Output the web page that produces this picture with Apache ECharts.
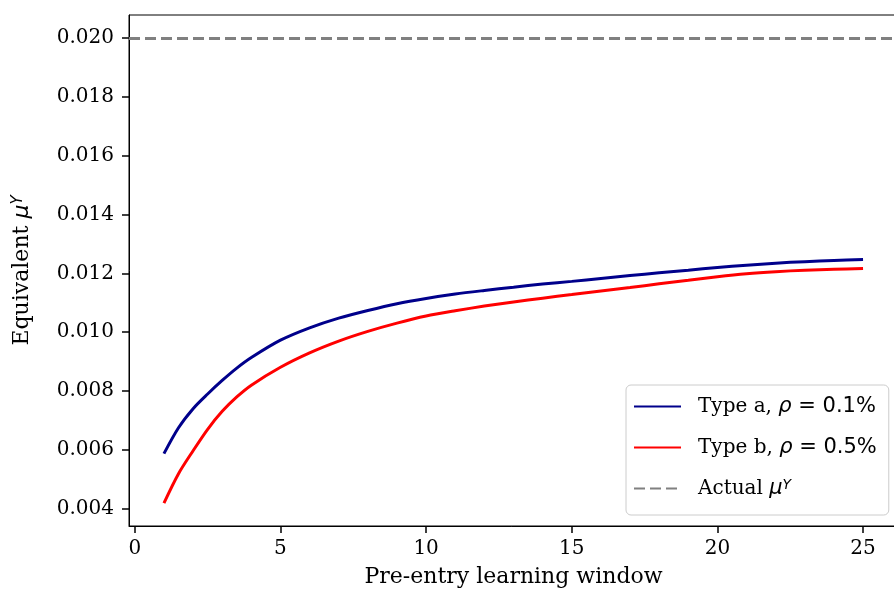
<!DOCTYPE html>
<html>
<head>
<meta charset="utf-8">
<script src="https://cdn.jsdelivr.net/npm/echarts@6/dist/echarts.min.js"></script>
<style>
html,body{margin:0;padding:0;background:#fff;}
#chart{width:894px;height:592px;}
</style>
</head>
<body>
<div id="chart"></div>
<script>
const xValues = [1,1.5,2,2.5,3,3.5,4,5,6,7,8,9,10,11,12,13,14,15,16,17,18,19,20,21,22,23,24,25];
const typeA = [0.00587,0.00675,0.00740,0.00790,0.00836,0.00878,0.00914,0.00973,0.01015,0.01048,0.01074,0.01097,0.01115,0.01130,0.01142,0.01153,0.01164,0.01173,0.01183,0.01193,0.01202,0.01211,0.01220,0.01228,0.01235,0.01240,0.01244,0.01247];
const typeB = [0.00419,0.00519,0.00597,0.00670,0.00731,0.00780,0.00820,0.00881,0.00930,0.00970,0.01003,0.01031,0.01055,0.01073,0.01089,0.01103,0.01116,0.01128,0.01140,0.01152,0.01165,0.01177,0.01189,0.01199,0.01206,0.01211,0.01214,0.01217];
const actualMu = 0.020;
const xTicks = [0,5,10,15,20,25];
const yTicks = [0.004,0.006,0.008,0.010,0.012,0.014,0.016,0.018,0.020];
const seriesNames = ['Type a', 'Type b', 'Actual'];

const serif = 'DejaVu Serif';
const sans = 'DejaVu Sans';
const chart = echarts.init(document.getElementById('chart'), null, {renderer:'canvas'});

const pairs = arr => xValues.map((x,i)=>[x, arr[i]]);

const option = {
  animation: false,
  backgroundColor: '#fff',
  grid: {left:129, top:15, width:769, height:511, show:true, borderColor:'#000', borderWidth:1, backgroundColor:'transparent', outerBoundsMode:'none'},
  xAxis: {
    type:'value', min:-0.2, max:26.2,
    name:'Pre-entry learning window', nameLocation:'middle', nameGap:40,
    nameTextStyle:{fontFamily:serif, fontSize:22, color:'#000'},
    axisLine:{show:true, onZero:false, lineStyle:{color:'#000', width:1}},
    axisTick:{show:true, length:7, lineStyle:{color:'#000', width:1.5}, customValues:xTicks},
    axisLabel:{fontFamily:serif, fontSize:20, color:'#000', margin:13, customValues:xTicks, formatter: v => String(v)},
    splitLine:{show:false}
  },
  yAxis: {
    type:'value', min:0.00341, max:0.02079,
    name:'{t|Equivalent }{m|μ}{s|Y}', nameLocation:'middle', nameRotate:90, nameGap:96,
    nameTextStyle:{fontFamily:serif, fontSize:22, color:'#000',
      rich:{t:{fontFamily:serif, fontSize:22, color:'#000'},
            m:{fontFamily:sans, fontStyle:'italic', fontSize:22, color:'#000'},
            s:{fontFamily:sans, fontStyle:'italic', fontSize:15, color:'#000', verticalAlign:'top', lineHeight:10}}},
    axisLine:{show:true, onZero:false, lineStyle:{color:'#000', width:1}},
    axisTick:{show:true, length:7, lineStyle:{color:'#000', width:1.5}, customValues:yTicks},
    axisLabel:{fontFamily:serif, fontSize:20, color:'#000', margin:15, customValues:yTicks, formatter: v => v.toFixed(3)},
    splitLine:{show:false}
  },
  legend: {
    left:626, top:385, orient:'vertical',
    padding:[11,12,16,7], itemGap:20, itemWidth:47, itemHeight:20,
    backgroundColor:'rgba(255,255,255,0.8)', borderColor:'#cccccc', borderWidth:1, borderRadius:5,
    itemStyle:{opacity:0},
    data: seriesNames,
    formatter: function(name){
      if (name==='Type a') return '{t|Type a, }{m|ρ}{n| = 0.1%}';
      if (name==='Type b') return '{t|Type b, }{m|ρ}{n| = 0.5%}';
      return '{t|Actual }{m|μ}{s|Y}';
    },
    textStyle:{fontFamily:serif, fontSize:20, color:'#000', padding:[0,0,0,12],
      rich:{t:{fontFamily:serif, fontSize:20, color:'#000'},
            m:{fontFamily:sans, fontStyle:'italic', fontSize:21, color:'#000'},
            n:{fontFamily:sans, fontSize:21, color:'#000'},
            s:{fontFamily:sans, fontStyle:'italic', fontSize:14, color:'#000', verticalAlign:'top', lineHeight:10}}}
  },
  series: [
    {name:'Type a', type:'line', data:pairs(typeA), smooth:0.3, showSymbol:false, symbol:'none',
     lineStyle:{color:'#00008b', width:3}, itemStyle:{color:'#00008b'}, z:3},
    {name:'Type b', type:'line', data:pairs(typeB), smooth:0.3, showSymbol:false, symbol:'none',
     lineStyle:{color:'#ff0000', width:3}, itemStyle:{color:'#ff0000'}, z:3},
    {name:'Actual', type:'line', data:[], symbol:'none',
     lineStyle:{color:'#808080', width:3, type:[11,5]}, itemStyle:{color:'#808080'},
     markLine:{silent:true, symbol:['none','none'], label:{show:false},
       lineStyle:{color:'#808080', width:3, type:[11,5]},
       data:[{yAxis:actualMu}]}, z:2}
  ]
};
chart.setOption(option);
</script>
</body>
</html>
